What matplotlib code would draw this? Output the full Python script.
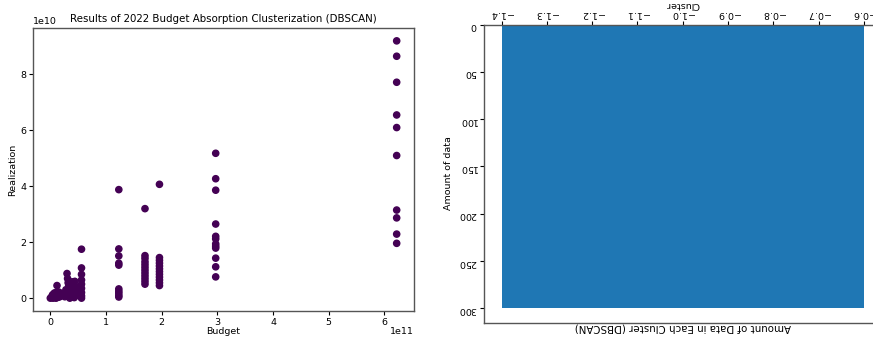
import matplotlib
matplotlib.use("Agg")
import matplotlib.pyplot as plt

# ---- Scatter data (Budget in 1e11 units, Realization in 1e10 units) ----
budget_e11 = [
    # small budgets blob
    0.00, 0.02, 0.03, 0.04, 0.05, 0.06, 0.07, 0.08, 0.09, 0.10, 0.11, 0.12,
    0.13, 0.14, 0.15, 0.16, 0.17, 0.18, 0.19, 0.20, 0.12, 0.05, 0.10, 0.15,
    # second blob
    0.26, 0.28, 0.30, 0.31, 0.32, 0.33, 0.34, 0.35, 0.36, 0.37, 0.38, 0.39,
    0.40, 0.41, 0.42, 0.43, 0.44, 0.45, 0.46, 0.47, 0.30, 0.33, 0.36, 0.40,
    0.43, 0.46, 0.28, 0.35, 0.38, 0.42,
    # column 0.56
    0.56, 0.56, 0.56, 0.56, 0.56, 0.56, 0.56, 0.56, 0.56,
    # column 1.23
    1.23, 1.23, 1.23, 1.23, 1.23, 1.23, 1.23, 1.23, 1.23, 1.23,
    # column 1.70
    1.70, 1.70, 1.70, 1.70, 1.70, 1.70, 1.70, 1.70, 1.70, 1.70, 1.70, 1.70,
    # column 1.96
    1.96, 1.96, 1.96, 1.96, 1.96, 1.96, 1.96, 1.96, 1.96, 1.96, 1.96, 1.96,
    # column 2.97
    2.97, 2.97, 2.97, 2.97, 2.97, 2.97, 2.97, 2.97, 2.97, 2.97, 2.97, 2.97,
    # column 6.22
    6.22, 6.22, 6.22, 6.22, 6.22, 6.22, 6.22, 6.22, 6.22, 6.22,
]
realization_e10 = [
    0.00, 0.02, 0.06, 0.12, 0.03, 0.10, 0.18, 0.05, 0.14, 0.20, 0.08, 0.45,
    0.15, 0.10, 0.22, 0.04, 0.12, 0.18, 0.08, 0.15, 0.02, 0.00, 0.00, 0.05,
    0.05, 0.30, 0.88, 0.70, 0.55, 0.20, 0.60, 0.40, 0.10, 0.55, 0.30, 0.50,
    0.58, 0.15, 0.45, 0.35, 0.60, 0.25, 0.40, 0.10, 0.10, 0.45, 0.25, 0.05,
    0.02, 0.20, 0.15, 0.00, 0.35, 0.52,
    1.75, 1.08, 0.85, 0.65, 0.50, 0.35, 0.20, 0.08, 0.00,
    3.88, 1.76, 1.51, 1.25, 1.18, 0.33, 0.25, 0.18, 0.10, 0.04,
    3.20, 1.52, 1.42, 1.30, 1.20, 1.10, 1.00, 0.90, 0.80, 0.70, 0.60, 0.50,
    4.07, 1.45, 1.35, 1.25, 1.15, 1.05, 0.95, 0.85, 0.75, 0.65, 0.55, 0.45,
    5.18, 4.27, 3.86, 2.65, 2.21, 2.12, 1.94, 1.86, 1.79, 1.43, 1.12, 0.76,
    9.20, 8.65, 7.72, 6.55, 6.10, 5.10, 3.15, 2.87, 2.29, 1.96,
]

# ---- Cluster counts ----
cluster_labels = [-1]
cluster_counts = [300]

budget = [b * 1e11 for b in budget_e11]
realization = [r * 1e10 for r in realization_e10]
cluster_of_point = [-1] * len(budget)

FS = 6.8
TFS = 7.4

plt.rcParams['font.family'] = ['DejaVu Sans']
fig = plt.figure(figsize=(8.73, 3.37), dpi=100)

# Left scatter
ax1 = fig.add_axes([33/873, 1 - 311/337, (414-33)/873, (311-28)/337])
ax1.scatter(budget, realization, c=cluster_of_point, cmap='viridis', s=20)
ax1.set_title('Results of 2022 Budget Absorption Clusterization (DBSCAN)',
              fontsize=TFS, y=1.0, pad=4)
ax1.set_xlabel('Budget', fontsize=FS, labelpad=0)
ax1.set_ylabel('Realization', fontsize=FS, labelpad=2)
ax1.tick_params(labelsize=FS, length=3, pad=2)
ax1.xaxis.OFFSETTEXTPAD = 0
ax1.xaxis.get_offset_text().set_fontsize(FS)
ax1.yaxis.get_offset_text().set_fontsize(FS)
for s in ax1.spines.values():
    s.set_color('#555555')
    s.set_linewidth(1.0)

# Right bar chart (shown flipped vertically)
ax2 = fig.add_axes([483.5/873, 1 - 322.5/337, 398.5/873, 298/337])
ax2.bar(cluster_labels, cluster_counts, color='#1f77b4')
ax2.invert_yaxis()
ax2.xaxis.tick_top()
ax2.xaxis.set_label_position('top')
ax2.set_xticks([-1.4, -1.3, -1.2, -1.1, -1.0, -0.9, -0.8, -0.7, -0.6])
ax2.set_yticks([0, 50, 100, 150, 200, 250, 300])
ax2.tick_params(labelsize=FS, length=3, pad=2)
for lab in ax2.get_xticklabels():
    lab.set_rotation(180)
for lab in ax2.get_yticklabels():
    lab.set_rotation(180)
ax2.set_xlabel('Cluster', fontsize=FS, rotation=180, labelpad=1)
ax2.set_ylabel('Amount of data', fontsize=FS, rotation=90, labelpad=4)
ax2.text(0.5, -0.016, 'Amount of Data in Each Cluster (DBSCAN)', transform=ax2.transAxes,
         ha='center', va='center', rotation=180, fontsize=TFS)
for s in ax2.spines.values():
    s.set_color('#555555')
    s.set_linewidth(1.0)

fig.savefig('out.png', dpi=100)
